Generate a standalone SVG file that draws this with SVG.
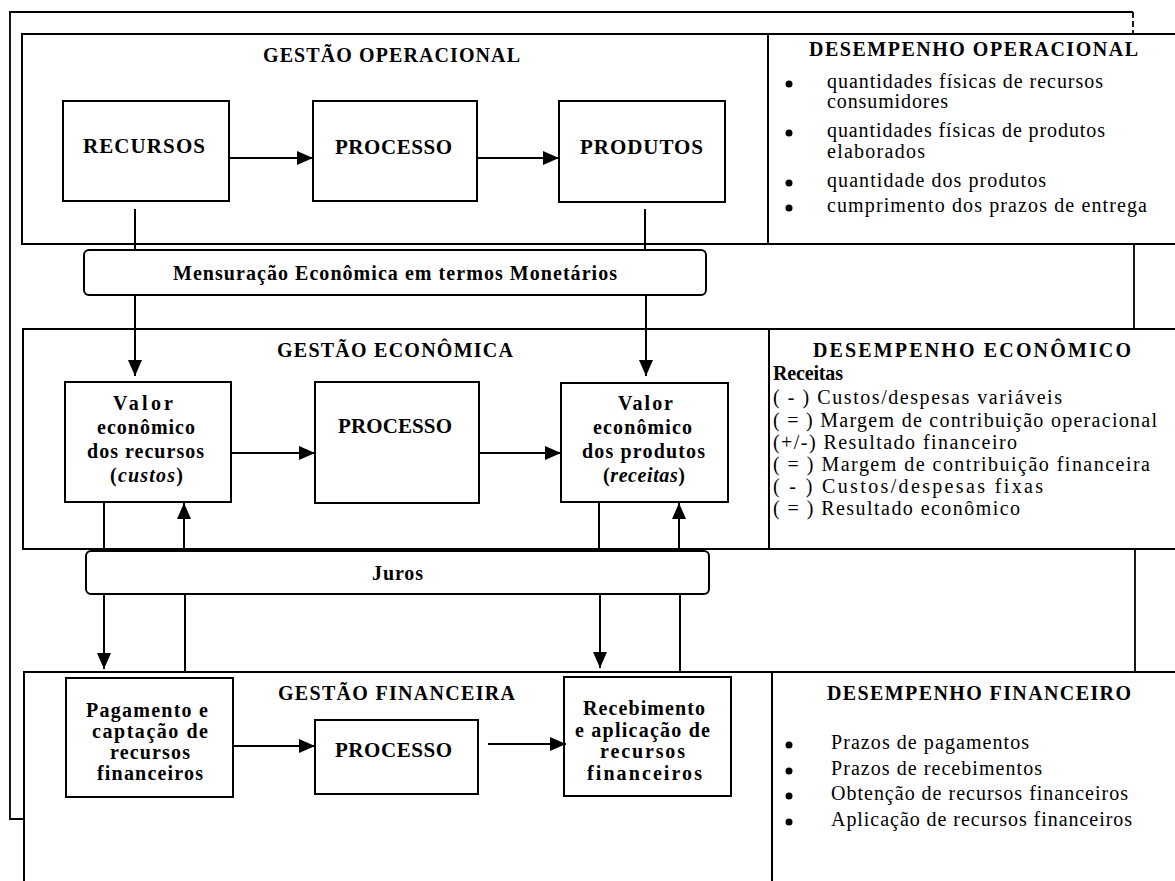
<svg xmlns="http://www.w3.org/2000/svg" width="1175" height="881" viewBox="0 0 1175 881">
  <defs>
    <marker id="arrow" viewBox="0 0 16 14" refX="16" refY="7" markerWidth="16" markerHeight="14" markerUnits="userSpaceOnUse" orient="auto">
      <path d="M0,0 L16,7 L0,14 Z" fill="#000"/>
    </marker>
    <style>
      .frame { fill: none; stroke: #000; stroke-width: 1.8; }
      .panel { fill: #fff; stroke: #000; stroke-width: 2; }
      .box { fill: #fff; stroke: #000; stroke-width: 2; }
      .band { fill: #fff; stroke: #000; stroke-width: 2; }
      .line { fill: none; stroke: #000; stroke-width: 2; }
      .arrow { fill: none; stroke: #000; stroke-width: 2; marker-end: url(#arrow); }
      text { font-family: "Liberation Serif", "Times New Roman", serif; fill: #000; }
      .title { font-size: 20px; font-weight: bold; }
      .big { font-size: 21px; font-weight: bold; }
      .lbl { font-size: 20px; font-weight: bold; }
      .item { font-size: 20px; }
      .bullet { fill: #000; }
    </style>
  </defs>

  <rect width="1175" height="881" fill="#fff"/>

  <!-- outer frame behind the three sections -->
  <g id="outer-frame">
    <polyline class="frame" points="24,819 10,819 10,12 1133,12"/>
    <line class="frame" x1="1133" y1="12" x2="1133" y2="34" stroke-dasharray="6,3"/>
    <line class="frame" x1="1134" y1="244" x2="1134" y2="329"/>
    <line class="frame" x1="1135" y1="549" x2="1135" y2="672"/>
  </g>

  <!-- operational management section -->
  <g id="secao-operacional">
    <rect class="panel" x="22" y="34" width="1170" height="210"/>
    <line class="line" x1="768" y1="34" x2="768" y2="244"/>
    <text class="title" x="263" y="62" textLength="257" lengthAdjust="spacing">GESTÃO OPERACIONAL</text>
  </g>
  <g id="desempenho-operacional">
    <text class="title" x="809" y="56" textLength="329" lengthAdjust="spacing">DESEMPENHO OPERACIONAL</text>
    <circle class="bullet" cx="789" cy="84" r="3.5"/>
    <text class="item" x="827" y="88" textLength="276" lengthAdjust="spacing">quantidades físicas de recursos</text>
    <text class="item" x="827" y="108" textLength="121" lengthAdjust="spacing">consumidores</text>
    <circle class="bullet" cx="789" cy="133" r="3.5"/>
    <text class="item" x="827" y="137" textLength="278" lengthAdjust="spacing">quantidades físicas de produtos</text>
    <text class="item" x="827" y="158" textLength="98" lengthAdjust="spacing">elaborados</text>
    <circle class="bullet" cx="789" cy="183" r="3.5"/>
    <text class="item" x="827" y="187" textLength="219" lengthAdjust="spacing">quantidade dos produtos</text>
    <circle class="bullet" cx="789" cy="208" r="3.5"/>
    <text class="item" x="827" y="212" textLength="320" lengthAdjust="spacing">cumprimento dos prazos de entrega</text>
  </g>
  <g id="recursos">
    <rect class="box" x="63" y="101" width="166" height="100"/>
    <text class="big" x="83" y="153" textLength="122" lengthAdjust="spacing">RECURSOS</text>
  </g>
  <g id="processo-operacional">
    <rect class="box" x="313" y="101" width="164" height="100"/>
    <text class="big" x="335" y="154" textLength="117" lengthAdjust="spacing">PROCESSO</text>
  </g>
  <g id="produtos">
    <rect class="box" x="559" y="101" width="166" height="101"/>
    <text class="big" x="580" y="154" textLength="123" lengthAdjust="spacing">PRODUTOS</text>
  </g>

  <!-- economic management section -->
  <g id="secao-economica">
    <rect class="panel" x="23" y="329" width="1170" height="220"/>
    <line class="line" x1="769" y1="329" x2="769" y2="549"/>
    <text class="title" x="277" y="357" textLength="236" lengthAdjust="spacing">GESTÃO ECONÔMICA</text>
  </g>
  <g id="desempenho-economico">
    <text class="title" x="813" y="357" textLength="318" lengthAdjust="spacing">DESEMPENHO ECONÔMICO</text>
    <text class="lbl" x="773" y="380" textLength="70" lengthAdjust="spacing">Receitas</text>
    <text class="item" x="773" y="404" textLength="289" lengthAdjust="spacing">( - ) Custos/despesas variáveis</text>
    <text class="item" x="773" y="427" textLength="384" lengthAdjust="spacing">( = ) Margem de contribuição operacional</text>
    <text class="item" x="773" y="449" textLength="244" lengthAdjust="spacing">(+/-) Resultado financeiro</text>
    <text class="item" x="773" y="471" textLength="377" lengthAdjust="spacing">( = ) Margem de contribuição financeira</text>
    <text class="item" x="773" y="493" textLength="270" lengthAdjust="spacing">( - ) Custos/despesas fixas</text>
    <text class="item" x="773" y="515" textLength="247" lengthAdjust="spacing">( = ) Resultado econômico</text>
  </g>
  <g id="valor-recursos">
    <rect class="box" x="65" y="382" width="166" height="120"/>
    <text class="lbl" x="113" y="410" textLength="60" lengthAdjust="spacing">Valor</text>
    <text class="lbl" x="97" y="434" textLength="98" lengthAdjust="spacing">econômico</text>
    <text class="lbl" x="87" y="458" textLength="117" lengthAdjust="spacing">dos recursos</text>
    <text class="lbl" x="110" y="482" textLength="73" lengthAdjust="spacing">(<tspan font-style="italic">custos</tspan>)</text>
  </g>
  <g id="processo-economico">
    <rect class="box" x="315" y="382" width="164" height="121"/>
    <text class="big" x="338" y="433" textLength="114" lengthAdjust="spacing">PROCESSO</text>
  </g>
  <g id="valor-produtos">
    <rect class="box" x="561" y="383" width="167" height="119"/>
    <text class="lbl" x="618" y="410" textLength="55" lengthAdjust="spacing">Valor</text>
    <text class="lbl" x="593" y="434" textLength="99" lengthAdjust="spacing">econômico</text>
    <text class="lbl" x="582" y="458" textLength="123" lengthAdjust="spacing">dos produtos</text>
    <text class="lbl" x="603" y="482" textLength="82" lengthAdjust="spacing">(<tspan font-style="italic">receitas</tspan>)</text>
  </g>

  <!-- financial management section -->
  <g id="secao-financeira">
    <rect class="panel" x="24" y="672" width="1170" height="230"/>
    <line class="line" x1="772" y1="672" x2="772" y2="881"/>
    <text class="title" x="278" y="700" textLength="237" lengthAdjust="spacing">GESTÃO FINANCEIRA</text>
  </g>
  <g id="desempenho-financeiro">
    <text class="title" x="827" y="700" textLength="304" lengthAdjust="spacing">DESEMPENHO FINANCEIRO</text>
    <circle class="bullet" cx="789" cy="745" r="3.5"/>
    <text class="item" x="831" y="749" textLength="198" lengthAdjust="spacing">Prazos de pagamentos</text>
    <circle class="bullet" cx="789" cy="771" r="3.5"/>
    <text class="item" x="831" y="775" textLength="211" lengthAdjust="spacing">Prazos de recebimentos</text>
    <circle class="bullet" cx="789" cy="796" r="3.5"/>
    <text class="item" x="831" y="800" textLength="297" lengthAdjust="spacing">Obtenção de recursos financeiros</text>
    <circle class="bullet" cx="789" cy="822" r="3.5"/>
    <text class="item" x="831" y="826" textLength="301" lengthAdjust="spacing">Aplicação de recursos financeiros</text>
  </g>
  <g id="pagamento">
    <rect class="box" x="66" y="678" width="167" height="119"/>
    <text class="lbl" x="86" y="717" textLength="122" lengthAdjust="spacing">Pagamento e</text>
    <text class="lbl" x="92" y="738" textLength="116" lengthAdjust="spacing">captação de</text>
    <text class="lbl" x="110" y="759" textLength="80" lengthAdjust="spacing">recursos</text>
    <text class="lbl" x="97" y="780" textLength="106" lengthAdjust="spacing">financeiros</text>
  </g>
  <g id="processo-financeiro">
    <rect class="box" x="315" y="720" width="163" height="74"/>
    <text class="big" x="335" y="757" textLength="117" lengthAdjust="spacing">PROCESSO</text>
  </g>
  <g id="recebimento">
    <rect class="box" x="564" y="677" width="167" height="119"/>
    <text class="lbl" x="583" y="715" textLength="122" lengthAdjust="spacing">Recebimento</text>
    <text class="lbl" x="575" y="737" textLength="135" lengthAdjust="spacing">e aplicação de</text>
    <text class="lbl" x="600" y="758" textLength="85" lengthAdjust="spacing">recursos</text>
    <text class="lbl" x="587" y="780" textLength="115" lengthAdjust="spacing">financeiros</text>
  </g>

  <!-- connectors -->
  <g id="connectors">
    <!-- operational flow -->
    <line class="arrow" x1="229" y1="158" x2="313" y2="158"/>
    <line class="arrow" x1="477" y1="158" x2="559" y2="158"/>
    <line class="line" x1="135" y1="209" x2="135" y2="250"/>
    <line class="line" x1="645" y1="209" x2="645" y2="250"/>
    <!-- measurement into economic values -->
    <line class="arrow" x1="135" y1="295" x2="135" y2="376"/>
    <line class="arrow" x1="646" y1="295" x2="646" y2="376"/>
    <!-- economic flow -->
    <line class="arrow" x1="231" y1="453" x2="315" y2="453"/>
    <line class="arrow" x1="479" y1="453" x2="561" y2="453"/>
    <line class="line" x1="104" y1="502" x2="104" y2="551"/>
    <line class="arrow" x1="184" y1="551" x2="184" y2="503"/>
    <line class="line" x1="599" y1="502" x2="599" y2="551"/>
    <line class="arrow" x1="679" y1="551" x2="679" y2="503"/>
    <!-- interest into financial management -->
    <line class="arrow" x1="104" y1="594" x2="104" y2="669"/>
    <line class="line" x1="185" y1="594" x2="185" y2="672"/>
    <line class="arrow" x1="600" y1="594" x2="600" y2="668"/>
    <line class="line" x1="680" y1="594" x2="680" y2="672"/>
    <!-- financial flow -->
    <line class="arrow" x1="233" y1="746" x2="315" y2="746"/>
    <line class="arrow" x1="488" y1="744" x2="566" y2="744"/>
  </g>

  <!-- monetary measurement band -->
  <g id="mensuracao">
    <rect class="band" x="84" y="250" width="622" height="45" rx="5" ry="5"/>
    <text class="lbl" x="173" y="280" textLength="444" lengthAdjust="spacing">Mensuração Econômica em termos Monetários</text>
  </g>

  <!-- interest band -->
  <g id="juros">
    <rect class="band" x="86" y="551" width="623" height="43" rx="5" ry="5"/>
    <text class="lbl" x="372" y="580" textLength="51" lengthAdjust="spacing">Juros</text>
  </g>
</svg>
